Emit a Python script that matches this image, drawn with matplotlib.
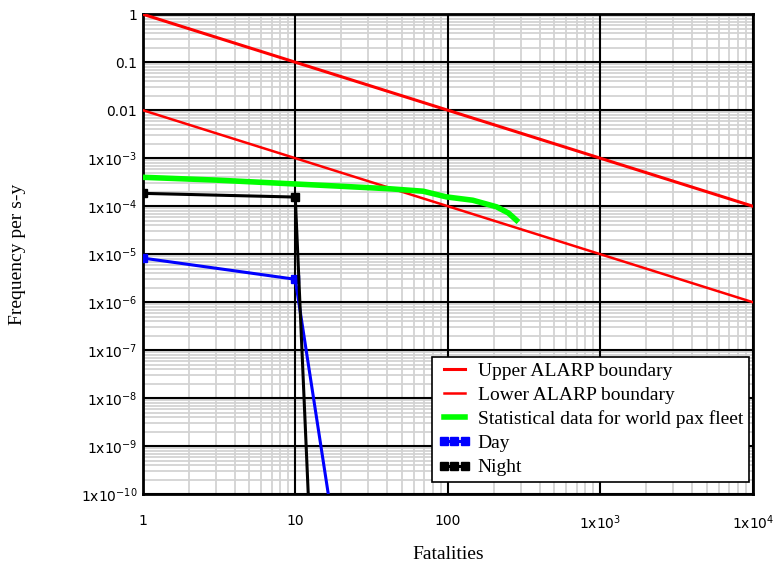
import numpy as np
import matplotlib
matplotlib.use("Agg")
import matplotlib.pyplot as plt
from matplotlib.ticker import FixedLocator, FixedFormatter, LogLocator, NullFormatter

# ALARP boundaries (F-N lines, slope -1)
alarp_n = [1, 10, 100, 1000, 10000]
upper_f = [1, 0.1, 0.01, 1e-3, 1e-4]
lower_f = [0.01, 1e-3, 1e-4, 1e-5, 1e-6]

# statistical data for world pax fleet
stat_n = [1, 3, 10, 20, 42, 69, 98, 146, 209, 250, 282]
stat_f = [4.0e-4, 3.5e-4, 2.9e-4, 2.6e-4, 2.3e-4, 2.05e-4, 1.56e-4, 1.33e-4, 9.7e-5, 7.2e-5, 5.1e-5]

# day / night scenarios
day_n = [1, 10, 20]
day_f = [8.3e-6, 3.0e-6, 1.8e-12]
night_n = [1, 10, 13]
night_f = [1.85e-4, 1.55e-4, 8e-13]

x_ticks = [1, 10, 100, 1000, 10000]
x_labels = ["1", "10", "100", "1x10$^{3}$", "1x10$^{4}$"]
y_ticks = [1, 0.1, 0.01, 1e-3, 1e-4, 1e-5, 1e-6, 1e-7, 1e-8, 1e-9, 1e-10]
y_labels = ["1", "0.1", "0.01"] + ["1x10$^{-%d}$" % k for k in range(3, 11)]

fig = plt.figure(figsize=(7.76, 5.68), dpi=100)
ax = fig.add_axes([0.184, 0.130, 0.786, 0.845])

ax.plot(alarp_n, upper_f, color="red", linewidth=2.2, label="Upper ALARP boundary", zorder=3)
ax.plot(alarp_n, lower_f, color="red", linewidth=1.8, label="Lower ALARP boundary", zorder=3)
ax.plot(stat_n, stat_f, color="#00ff00", linewidth=4, label="Statistical data for world pax fleet", zorder=3)
ax.plot(day_n, day_f, color="blue", linewidth=2.2, marker="s", markersize=6,
        label="Day", zorder=4)
ax.plot(night_n, night_f, color="black", linewidth=2.2, marker="s", markersize=6,
        label="Night", zorder=4)

ax.set_xscale("log")
ax.set_yscale("log")
ax.set_xlim(1, 1e4)
ax.set_ylim(1e-10, 1)

ax.xaxis.set_major_locator(FixedLocator(x_ticks))
ax.xaxis.set_major_formatter(FixedFormatter(x_labels))
ax.yaxis.set_major_locator(FixedLocator(y_ticks))
ax.yaxis.set_major_formatter(FixedFormatter(y_labels))
ax.xaxis.set_minor_locator(LogLocator(base=10, subs=np.arange(2, 10), numticks=20))
ax.yaxis.set_minor_locator(LogLocator(base=10, subs=np.arange(2, 10), numticks=20))
ax.xaxis.set_minor_formatter(NullFormatter())
ax.yaxis.set_minor_formatter(NullFormatter())

# light minor grid underneath, black major grid on top of it
ax.vlines(ax.xaxis.get_minorticklocs(), 0, 1, transform=ax.get_xaxis_transform(),
          color="#d3d3d3", linewidth=1.3, zorder=0.5)
ax.hlines(ax.yaxis.get_minorticklocs(), 0, 1, transform=ax.get_yaxis_transform(),
          color="#d3d3d3", linewidth=1.3, zorder=0.5)
ax.grid(True, which="major", color="black", linewidth=1.5)
ax.tick_params(which="both", length=0)
ax.tick_params(axis="x", pad=14, labelsize=10)
ax.tick_params(axis="y", pad=4, labelsize=10)
for sp in ax.spines.values():
    sp.set_linewidth(2)

ax.set_xlabel("Fatalities", family="Liberation Serif", fontsize=14, labelpad=10)
ax.set_ylabel("Frequency per s-y", family="Liberation Serif", fontsize=14, labelpad=39)

leg = ax.legend(loc="lower left", bbox_to_anchor=(0.474, 0.025), fancybox=False,
                edgecolor="black", framealpha=1, numpoints=3, handlelength=1.7,
                prop={"family": "Liberation Serif", "size": 14},
                borderpad=0.3, labelspacing=0.33, handletextpad=0.35, borderaxespad=0)
leg.get_frame().set_linewidth(1.2)

fig.savefig("out.png", dpi=100)
